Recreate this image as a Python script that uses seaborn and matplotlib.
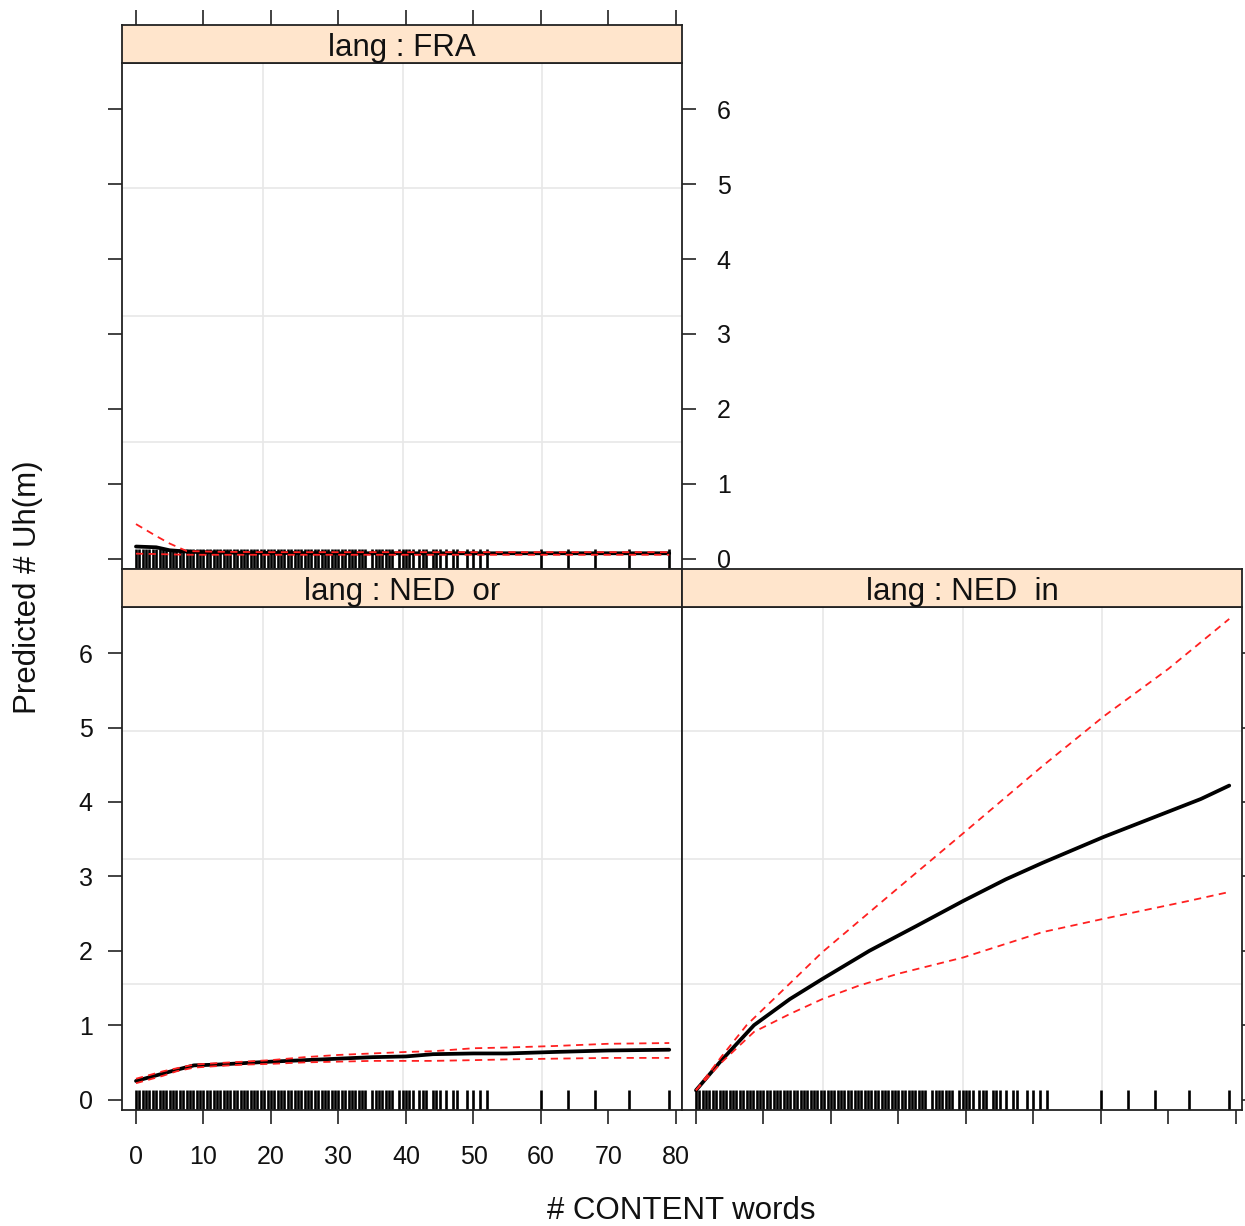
import matplotlib
matplotlib.use("Agg")
import matplotlib.pyplot as plt
import seaborn as sns
import numpy as np
import pandas as pd

# ---------------- data ----------------
panels = ["FRA", "NED_or", "NED_in"]
strip_labels = ["lang : FRA", "lang : NED  or", "lang : NED  in"]

# FRA
fra_fit_x = [0, 3, 5, 8, 12, 20, 30, 40, 50, 60, 70, 79]
fra_fit_y = [0.16, 0.15, 0.11, 0.09, 0.08, 0.075, 0.07, 0.07, 0.07, 0.07, 0.07, 0.07]
fra_up_x = [0, 3, 5, 7.5, 12, 20, 30, 40, 50, 60, 70, 79]
fra_up_y = [0.46, 0.30, 0.20, 0.10, 0.09, 0.085, 0.085, 0.085, 0.085, 0.085, 0.085, 0.085]
fra_lo_x = [0, 3, 5, 8, 12, 20, 30, 40, 50, 60, 70, 79]
fra_lo_y = [0.065, 0.06, 0.055, 0.05, 0.05, 0.05, 0.05, 0.05, 0.05, 0.05, 0.05, 0.05]

# NED_or
nor_x = [0, 2, 4, 6, 8.6, 12, 16, 20, 25, 30, 35, 40, 44, 50, 55, 62, 70, 79]
nor_fit = [0.25, 0.30, 0.35, 0.40, 0.46, 0.47, 0.49, 0.51, 0.53, 0.55, 0.57, 0.58, 0.61, 0.62, 0.62, 0.64, 0.66, 0.67]
nor_up = [0.28, 0.33, 0.38, 0.42, 0.47, 0.49, 0.51, 0.53, 0.57, 0.60, 0.62, 0.64, 0.65, 0.69, 0.70, 0.72, 0.75, 0.76]
nor_lo = [0.22, 0.27, 0.32, 0.38, 0.43, 0.45, 0.47, 0.48, 0.50, 0.51, 0.52, 0.52, 0.52, 0.53, 0.54, 0.55, 0.56, 0.56]

# NED_in
nin_fit_x = [0, 3.8, 8.6, 13.9, 18.7, 25.7, 32.6, 39.6, 45.9, 51.3, 60.4, 65.2, 70, 74.8, 79]
nin_fit_y = [0.125, 0.53, 1.0, 1.35, 1.62, 2.0, 2.33, 2.67, 2.96, 3.18, 3.53, 3.70, 3.87, 4.04, 4.22]
nin_up_x = [0, 3.8, 7.5, 18.7, 29.9, 39.6, 51.3, 60.4, 70, 79]
nin_up_y = [0.125, 0.58, 1.0, 1.98, 2.84, 3.58, 4.48, 5.15, 5.79, 6.46]
nin_lo_x = [0, 3.8, 8.6, 13.9, 18.7, 24.1, 29.9, 39.6, 51.3, 60.4, 73, 79]
nin_lo_y = [0.125, 0.50, 0.91, 1.15, 1.35, 1.53, 1.69, 1.91, 2.25, 2.43, 2.67, 2.79]

# rug of observed # CONTENT words
rug_x = [0, 0.5, 1, 1.5, 2, 2.5, 3, 3.5, 4, 4.5, 5, 5.5, 6, 6.5, 7, 7.5, 8, 8.5, 9, 9.5,
         10, 10.5, 11, 11.5, 12, 12.5, 13, 13.5, 14, 14.5, 15, 15.5, 16, 16.5, 17, 17.5,
         18, 18.5, 19, 19.5, 20, 20.5, 21, 21.5, 22, 22.5, 23, 23.5, 24, 24.5, 25, 25.5,
         26, 26.5, 27, 27.5, 28, 28.5, 29, 29.5, 30, 30.5, 31, 31.5, 32, 32.5, 33, 33.5,
         34, 35, 35.5, 36, 36.5, 37, 37.5, 38, 39, 39.5, 40, 40.5, 41, 42, 42.5, 43, 44,
         44.5, 45, 46, 47, 47.5, 49, 50, 51, 52, 60, 64, 68, 73, 79]

x_ticks = [0, 10, 20, 30, 40, 50, 60, 70, 80]
y_ticks = [0, 1, 2, 3, 4, 5, 6]
grid_x = [18.8, 39.5, 60.2]
grid_y = [1.56, 3.24, 4.95]

# ---------------- style ----------------
sns.set_theme(style="white")
plt.rcParams["font.family"] = ["Liberation Sans", "DejaVu Sans"]
plt.rcParams["axes.edgecolor"] = "#222222"

W, H = 1245, 1226
fig = plt.figure(figsize=(W / 100, H / 100), dpi=100)
fig.patch.set_facecolor("white")


def px_axes(x0, y0, x1, y1):
    return fig.add_axes([x0 / W, 1 - y1 / H, (x1 - x0) / W, (y1 - y0) / H])


XLIM = (-2.07, 80.89)
YLIM = (-0.14, 6.62)
STRIP_COLOR = "#FFE5CC"
TICKLEN = 10
TICKW = 1.2
FRAME_W = 1.3
TICK_FS = 18


def setup_panel(ax):
    ax.set_xlim(*XLIM)
    ax.set_ylim(*YLIM)
    ax.set_facecolor("white")
    for s in ax.spines.values():
        s.set_linewidth(FRAME_W)
        s.set_color("#222222")
    ax.set_xticks(x_ticks)
    ax.set_yticks(y_ticks)
    ax.tick_params(which="both", length=TICKLEN, width=TICKW, color="#222222",
                   direction="out", labelsize=TICK_FS, labelcolor="#111111",
                   bottom=False, top=False, left=False, right=False,
                   labelbottom=False, labeltop=False, labelleft=False, labelright=False)
    ax.set_xlabel("")
    ax.set_ylabel("")


def add_grid(ax):
    for gx in grid_x:
        ax.axvline(gx, color="#E8E8E8", lw=1.2, zorder=0)
    for gy in grid_y:
        ax.axhline(gy, color="#E8E8E8", lw=1.2, zorder=0)


def make_strip(x0, y0, x1, y1, text, top_ticks=False):
    sa = px_axes(x0, y0, x1, y1)
    sa.set_facecolor(STRIP_COLOR)
    sa.set_xlim(*XLIM)
    sa.set_ylim(0, 1)
    for s in sa.spines.values():
        s.set_linewidth(FRAME_W)
        s.set_color("#222222")
    sa.set_yticks([])
    sa.set_xticks(x_ticks if top_ticks else [])
    sa.tick_params(axis="x", bottom=False, top=top_ticks, labelbottom=False,
                   labeltop=False, length=TICKLEN + 1, width=TICKW, color="#222222",
                   direction="out")
    sa.text(0.5, 0.40, text, transform=sa.transAxes, ha="center", va="center",
            fontsize=22.5, color="#111111")
    sa.grid(False)
    return sa


def draw_curves(ax, fx, fy, ux, uy, lx, ly):
    add_grid(ax)
    sns.rugplot(x=rug_x, ax=ax, height=0.04, color="black", linewidth=1.9,
                expand_margins=False, zorder=2)
    sns.lineplot(x=fx, y=fy, ax=ax, color="black", lw=2.7, sort=False, zorder=3)
    sns.lineplot(x=ux, y=uy, ax=ax, color="#FF2020", lw=1.3, sort=False,
                 linestyle=(0, (4, 3)), zorder=4)
    sns.lineplot(x=lx, y=ly, ax=ax, color="#FF2020", lw=1.3, sort=False,
                 linestyle=(0, (4, 3)), zorder=4)


# ---- FRA (top-left) ----
ax_fra = px_axes(122, 63, 682, 569)
draw_curves(ax_fra, fra_fit_x, fra_fit_y, fra_up_x, fra_up_y, fra_lo_x, fra_lo_y)
setup_panel(ax_fra)
ax_fra.tick_params(axis="y", left=True, right=True, labelright=True, pad=15)
make_strip(122, 25, 682, 63, strip_labels[0], top_ticks=True)

# ---- NED_or (bottom-left) ----
ax_nor = px_axes(122, 607, 682, 1110)
draw_curves(ax_nor, nor_x, nor_fit, nor_x, nor_up, nor_x, nor_lo)
setup_panel(ax_nor)
ax_nor.tick_params(axis="y", left=True, labelleft=True, pad=11)
ax_nor.tick_params(axis="x", bottom=True, labelbottom=True, pad=15)

make_strip(122, 569, 682, 607, strip_labels[1])

# ---- NED_in (bottom-right) ----
ax_nin = px_axes(682, 607, 1242, 1110)
draw_curves(ax_nin, nin_fit_x, nin_fit_y, nin_up_x, nin_up_y, nin_lo_x, nin_lo_y)
setup_panel(ax_nin)
ax_nin.tick_params(axis="y", right=True)
ax_nin.tick_params(axis="x", bottom=True)
make_strip(682, 569, 1242, 607, strip_labels[2])

# ---- axis titles ----
fig.text(681 / W, 1 - 1211 / H, "# CONTENT words", ha="center", va="center",
         fontsize=22.5, color="#111111")
fig.text(28 / W, 1 - 587 / H, "Predicted # Uh(m)", ha="center", va="center",
         rotation=90, fontsize=22.5, color="#111111")

fig.savefig("out.png", dpi=100, facecolor="white")
